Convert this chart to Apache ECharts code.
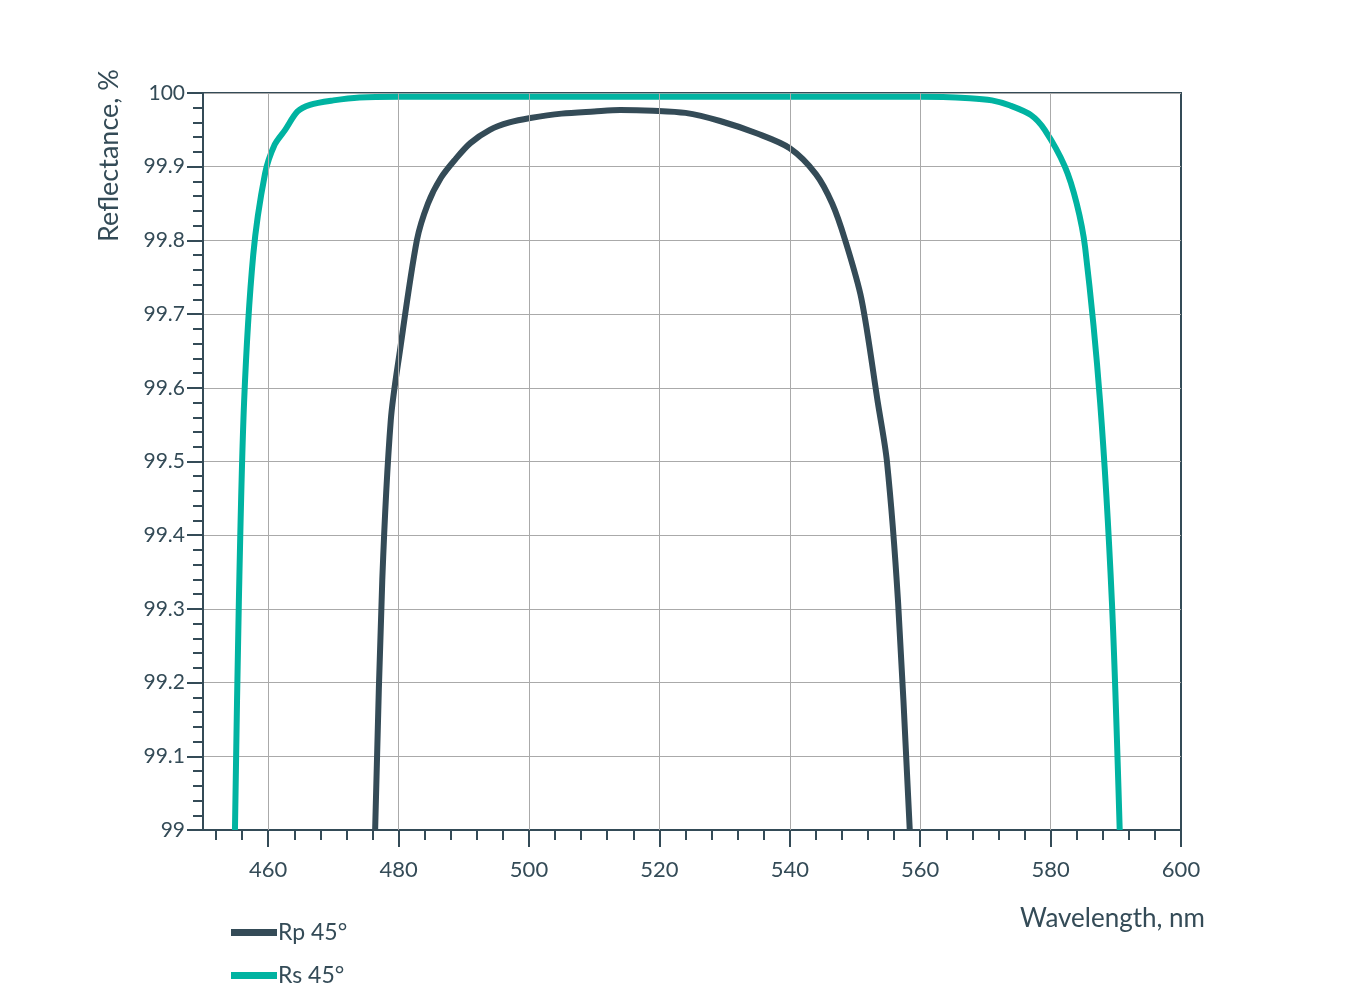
<!DOCTYPE html>
<html>
<head>
<meta charset="utf-8">
<script src="https://cdn.jsdelivr.net/npm/echarts@6/dist/echarts.min.js"></script>
<style>html,body{margin:0;background:#fff}#chart{width:1366px;height:1003px}</style>
</head>
<body>
<div id="chart"></div>
<script>
// wavelength (nm) / reflectance (%)
const rpX = [476.4, 477.5, 478.8, 480.2, 482.8, 484.5, 486.5, 488.7, 491, 494, 497, 500.2, 505, 510, 514, 519, 524, 529.3, 535, 540, 544, 546.5, 548.5, 551, 553.5, 554.9, 556.6, 558.4]
const rpY = [99.0, 99.34, 99.556, 99.65, 99.8, 99.85, 99.885, 99.91, 99.932, 99.95, 99.96, 99.966, 99.972, 99.975, 99.977, 99.976, 99.973, 99.962, 99.945, 99.925, 99.89, 99.85, 99.8, 99.72, 99.58, 99.5, 99.31, 99.0]
const rsX = [454.9, 455.5, 456.3, 457.7, 459.5, 461, 462.6, 464.5, 466.4, 470, 474, 480, 500, 530, 560, 567.6, 571, 573.8, 577, 579.1, 582.2, 584, 585.3, 587.6, 589.4, 590.6]
const rsY = [99.0, 99.31, 99.58, 99.78, 99.89, 99.93, 99.95, 99.975, 99.984, 99.99, 99.994, 99.995, 99.995, 99.995, 99.995, 99.993, 99.99, 99.983, 99.97, 99.95, 99.9, 99.85, 99.79, 99.58, 99.31, 99.0]
const gridX = [460, 480, 500, 520, 540, 560, 580]
const labelX = [460, 480, 500, 520, 540, 560, 580, 600]
const minorX = [452, 456, 464, 468, 472, 476, 484, 488, 492, 496, 504, 508, 512, 516, 524, 528, 532, 536, 544, 548, 552, 556, 564, 568, 572, 576, 584, 588, 592, 596]

const dark = '#344b57', teal = '#00b3a1', font = 'Lato'
const zip = (a, b) => a.map((v, i) => [v, b[i]])

const chart = echarts.init(document.getElementById('chart'))
chart.setOption({
  animation: false,
  textStyle: { fontFamily: font },
  grid: { left: 203, right: 185, top: 93, bottom: 173, show: true, borderColor: dark, borderWidth: 2 },
  legend: {
    orient: 'vertical', left: 226, top: 916, itemGap: 20, itemWidth: 46, itemHeight: 7,
    icon: 'rect', textStyle: { color: dark, fontSize: 23, fontFamily: font, padding: [0, 0, 0, -4] },
    data: ['Rp 45°', 'Rs 45°']
  },
  xAxis: [{
    type: 'value', min: 450, max: 600, position: 'bottom',
    axisLine: { lineStyle: { color: dark, width: 2 } },
    axisTick: { show: true, customValues: labelX, length: 17, lineStyle: { color: dark, width: 2 } },
    axisLabel: { customValues: labelX, color: dark, fontSize: 22, margin: 29 },
    splitLine: { show: false },
    name: 'Wavelength, nm', nameLocation: 'end', nameGap: 0,
    nameTextStyle: { color: dark, fontSize: 26, align: 'right', verticalAlign: 'top', padding: [76, -24, 0, 0] }
  }, {
    type: 'value', min: 450, max: 600, position: 'bottom',
    axisLine: { show: false },
    axisTick: { show: true, customValues: minorX, length: 10, lineStyle: { color: dark, width: 2 } },
    axisLabel: { show: false }, splitLine: { show: false }
  }],
  yAxis: {
    type: 'value', min: 99, max: 100, interval: 0.1,
    axisLine: { show: true, lineStyle: { color: dark, width: 2 } },
    axisTick: { show: true, length: 16, lineStyle: { color: dark, width: 2 } },
    minorTick: { show: true, splitNumber: 5, length: 10, lineStyle: { color: dark, width: 2 } },
    axisLabel: { color: dark, fontSize: 21, margin: 18, formatter: v => String(+v.toFixed(1)) },
    splitLine: { lineStyle: { color: '#aaaaaa', width: 1 } },
    name: 'Reflectance, %', nameLocation: 'end', nameRotate: 90, nameGap: 0,
    nameTextStyle: { color: dark, fontSize: 27, align: 'right', verticalAlign: 'bottom', padding: [0, -24, 80, 0] }
  },
  series: [{
    name: 'Rp 45°', type: 'line', data: zip(rpX, rpY), smooth: 0.3,
    symbol: 'none', color: dark, lineStyle: { width: 6, color: dark }, z: 3,
    markLine: {
      silent: true, symbol: 'none', label: { show: false },
      lineStyle: { color: '#aaaaaa', width: 1, type: 'solid' },
      data: gridX.map(v => ({ xAxis: v }))
    }
  }, {
    name: 'Rs 45°', type: 'line', data: zip(rsX, rsY), smooth: 0.3,
    symbol: 'none', color: teal, lineStyle: { width: 6, color: teal }, z: 2
  }]
})
</script>
</body>
</html>
